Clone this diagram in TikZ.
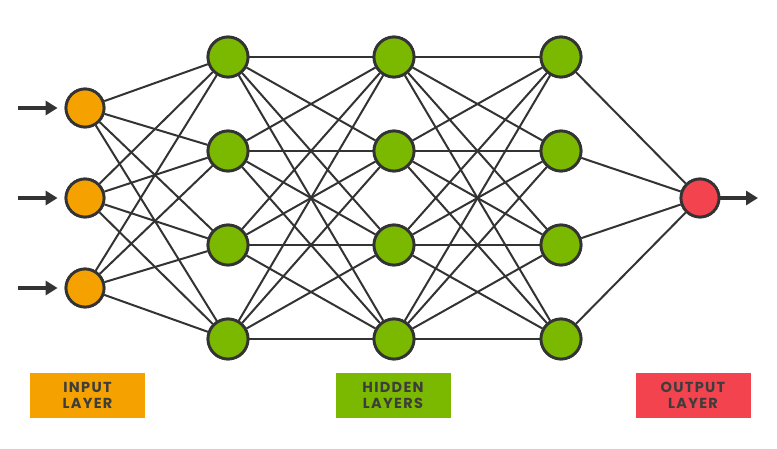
\documentclass[tikz,border=0pt]{standalone}
\usepackage{fontspec}
\setmainfont{Poppins}
\usetikzlibrary{arrows.meta}
\definecolor{inorange}{HTML}{F5A100}
\definecolor{hidgreen}{HTML}{7BB800}
\definecolor{outred}{HTML}{F2434F}
\definecolor{edgegray}{HTML}{333333}
\definecolor{labtext}{HTML}{3D3D3D}
\begin{document}
\begin{tikzpicture}[x=1pt,y=-1pt,
  neuron/.style={circle,draw=edgegray,line width=2.8pt,minimum size=38pt,inner sep=0pt},
  inneuron/.style={neuron,fill=inorange},
  hidneuron/.style={neuron,fill=hidgreen,minimum size=40pt},
  outneuron/.style={neuron,fill=outred},
  edge/.style={draw=edgegray,line width=2pt},
  ioarrow/.style={draw=edgegray,line width=3.5pt,-{Triangle[length=12pt,width=14pt]}},
  labelbox/.style={minimum width=115pt,minimum height=45pt,inner sep=0pt,align=center,text=labtext,font=\fontsize{14.5}{16.5}\selectfont\bfseries\addfontfeatures{LetterSpace=9}}
]
\useasboundingbox (0,0) rectangle (777,449);
% input nodes
\foreach \i/\y in {1/108,2/198,3/288} \node[inneuron] (in\i) at (85,\y) {};
\foreach \l/\x in {a/228,b/394,c/561}
  \foreach \i/\y in {1/57,2/151,3/245,4/339}
    \node[hidneuron] (\l\i) at (\x,\y) {};
\node[outneuron] (out) at (700,198) {};
% edges
\foreach \i in {1,2,3} \foreach \j in {1,2,3,4} \draw[edge] (in\i) -- (a\j);
\foreach \i in {1,2,3,4} \foreach \j in {1,2,3,4} {\draw[edge] (a\i) -- (b\j); \draw[edge] (b\i) -- (c\j);}
\foreach \i in {1,2,3,4} \draw[edge] (c\i) -- (out);
% redraw nodes on top
\foreach \i/\y in {1/108,2/198,3/288} \node[inneuron] at (85,\y) {};
\foreach \l/\x in {a/228,b/394,c/561}
  \foreach \i/\y in {1/57,2/151,3/245,4/339}
    \node[hidneuron] at (\x,\y) {};
\node[outneuron] at (700,198) {};
% arrows
\foreach \i/\y in {1/108,2/198,3/288} {\coordinate (s\i) at (18,\y); \draw[ioarrow,shorten >=7pt] (s\i) -- (in\i.west);}
\coordinate (e) at (758,198);
\draw[ioarrow] (out.east) -- (e);
% labels
\node[labelbox,fill=inorange] (l1) at (87.5,395.5) {INPUT\\LAYER};
\node[labelbox,fill=hidgreen] (l2) at (393,395.5) {HIDDEN\\LAYERS};
\node[labelbox,fill=outred] (l3) at (693,395.5) {OUTPUT\\LAYER};
\end{tikzpicture}
\end{document}
